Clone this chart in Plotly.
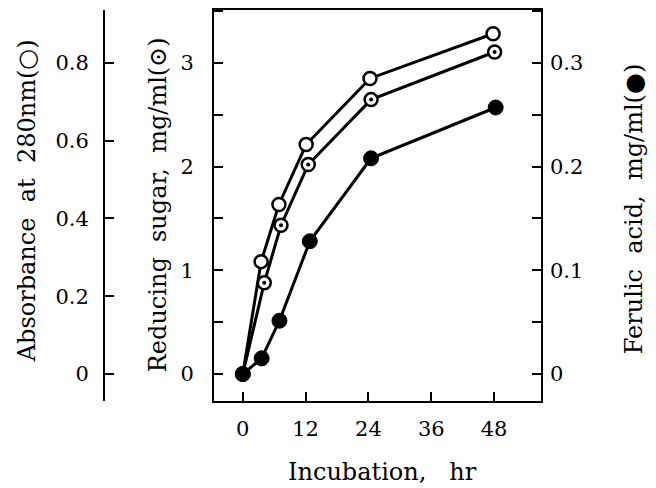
import plotly.graph_objects as go

# ---- data ----
t_abs = [0, 3.5, 6.9, 12.1, 24.3, 47.8]
absorbance = [0.0, 0.289, 0.436, 0.590, 0.760, 0.875]

t_sugar = [0, 4.1, 7.3, 12.5, 24.5, 48.1]
reducing_sugar = [0.0, 0.88, 1.435, 2.02, 2.646, 3.105]

t_ferulic = [0, 3.6, 7.0, 12.8, 24.5, 48.3]
ferulic = [0.0, 0.0151, 0.0514, 0.128, 0.208, 0.257]

x_ticks = [0, 12, 24, 36, 48]
sugar_ticks = [0, 1, 2, 3]
abs_ticks = [0, 0.2, 0.4, 0.6, 0.8]
abs_ticklabels = ["0", "0.2", "0.4", "0.6", "0.8"]
ferulic_ticks = [0, 0.1, 0.2, 0.3]
ferulic_ticklabels = ["0", "0.1", "0.2", "0.3"]

FONT = "DejaVu Serif"
OFF = 8                       # browser default body margin
W, H = 656 - OFF, 488 - OFF
ML, MR, MT, MB = 2, 2, 9.5 - OFF, 488 - 401
PW = W - ML - MR
PH = H - MT - MB
x0_px, x1_px = 214 - OFF, 540.7 - OFF
abs_axis_px = 104 - OFF

fig = go.Figure()

LW = 3
# lines first
fig.add_trace(go.Scatter(x=t_ferulic, y=ferulic, yaxis="y3", mode="lines",
                         line=dict(color="black", width=LW), showlegend=False))
fig.add_trace(go.Scatter(x=t_sugar, y=reducing_sugar, yaxis="y", mode="lines",
                         line=dict(color="black", width=LW), showlegend=False))
fig.add_trace(go.Scatter(x=t_abs, y=absorbance, yaxis="y2", mode="lines",
                         line=dict(color="black", width=LW), showlegend=False))
# markers
fig.add_trace(go.Scatter(x=t_ferulic, y=ferulic, yaxis="y3", mode="markers",
                         marker=dict(symbol="circle", size=15, color="black",
                                     line=dict(color="black", width=1)),
                         showlegend=False))
fig.add_trace(go.Scatter(x=t_sugar, y=reducing_sugar, yaxis="y", mode="markers",
                         marker=dict(symbol="circle", size=13, color="white",
                                     line=dict(color="black", width=2.5)),
                         showlegend=False))
fig.add_trace(go.Scatter(x=t_sugar, y=reducing_sugar, yaxis="y", mode="markers",
                         marker=dict(symbol="circle", size=4, color="black",
                                     line=dict(width=0)),
                         showlegend=False))
fig.add_trace(go.Scatter(x=t_abs, y=absorbance, yaxis="y2", mode="markers",
                         marker=dict(symbol="circle", size=13, color="white",
                                     line=dict(color="black", width=2.5)),
                         showlegend=False))

tickfont = dict(family=FONT, size=21, color="black")

fig.update_layout(
    width=W, height=H,
    margin=dict(l=ML, r=MR, t=MT, b=MB, autoexpand=False),
    paper_bgcolor="white", plot_bgcolor="white",
    font=dict(family=FONT, color="black"),
    xaxis=dict(
        domain=[(x0_px - ML) / PW, (x1_px - ML) / PW],
        range=[-5.5, 56.9], tickvals=x_ticks,
        ticks="inside", ticklen=9, tickwidth=2, tickcolor="black",
        showline=True, linewidth=2, linecolor="black", mirror=True,
        showgrid=False, zeroline=False, tickfont=tickfont,
        ticklabelstandoff=8,
    ),
    yaxis=dict(
        range=[-0.26, 3.51], tickvals=sugar_ticks,
        ticks="inside", ticklen=9, tickwidth=2, tickcolor="black",
        minor=dict(dtick=0.5, tick0=0, ticks="inside", ticklen=9,
                   tickwidth=2, tickcolor="black", showgrid=False),
        showline=True, linewidth=2, linecolor="black",
        showgrid=False, zeroline=False, tickfont=tickfont,
        ticklabelstandoff=14,
    ),
    yaxis2=dict(
        overlaying="y", anchor="free", side="left",
        position=(abs_axis_px - ML) / PW,
        range=[-0.0693, 0.936], tickvals=abs_ticks, ticktext=abs_ticklabels,
        ticks="inside", ticklen=9, tickwidth=2, tickcolor="black",
        showline=True, linewidth=2, linecolor="black",
        showgrid=False, zeroline=False, tickfont=tickfont,
        ticklabelstandoff=10,
    ),
    yaxis3=dict(
        overlaying="y", anchor="x", side="right",
        range=[-0.026, 0.351], tickvals=ferulic_ticks, ticktext=ferulic_ticklabels,
        ticks="inside", ticklen=9, tickwidth=2, tickcolor="black",
        minor=dict(dtick=0.05, tick0=0, ticks="inside", ticklen=9,
                   tickwidth=2, tickcolor="black", showgrid=False),
        showline=True, linewidth=2, linecolor="black",
        showgrid=False, zeroline=False, tickfont=tickfont,
        ticklabelstandoff=3,
    ),
)

titlefont = dict(family=FONT, size=24, color="black")

def ann(text, xpx, ypx, angle):
    fx, fy = xpx - OFF, ypx - OFF
    fig.add_annotation(text=text, x=(fx - ML) / PW, y=(H - MB - fy) / PH,
                       xref="paper", yref="paper",
                       xanchor="center", yanchor="middle", textangle=angle,
                       showarrow=False, font=titlefont)

ann("Absorbance  at  280nm(○)", 27, 201, -90)
ann("Reducing  sugar,  mg/ml(⊙)", 158, 205, -90)
ann("Ferulic  acid,  mg/ml(●)", 634, 209, -90)
ann("Incubation,   hr", 382, 472, 0)

fig.write_html("out.html")
